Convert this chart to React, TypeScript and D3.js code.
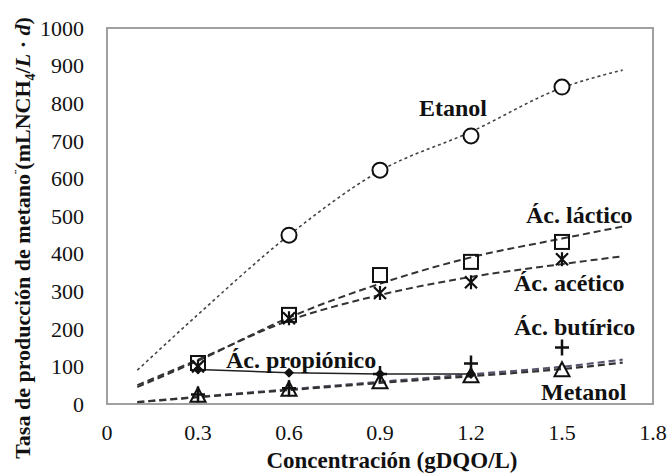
import React from "react";
import * as d3 from "d3";

const xTicks = [0, 0.3, 0.6, 0.9, 1.2, 1.5, 1.8];
const yTicks = [0, 100, 200, 300, 400, 500, 600, 700, 800, 900, 1000];

const concX = [0.3, 0.6, 0.9, 1.2, 1.5];
const etanolX = [0.6, 0.9, 1.2, 1.5];
const etanol = [449, 622, 713, 843];
const lactico = [109, 237, 343, 378, 431];
const acetico = [100, 228, 295, 324, 385];
const propionicoX = [0.3, 0.6, 0.9, 1.2];
const propionico = [92, 83, 80, 80];
const butirico = [25, 42, 80, 108, 150];
const metanol = [22, 38, 58, 74, 90];

const trendX = [0.1, 0.3, 0.6, 0.9, 1.2, 1.5, 1.7];
const etanolTrend = [90, 238, 449, 620, 724, 841, 888];
const lacticoTrend = [45, 115, 230, 320, 390, 440, 472];
const aceticoTrend = [50, 118, 222, 290, 338, 372, 393];
const butiricoTrend = [5, 19, 39, 59, 79, 99, 118];
const metanolTrend = [5, 18, 37, 56, 74, 93, 110];

const W = 670, H = 474;
const L = 107, R = 653, T = 28, B = 404;
const FONT = "'Liberation Serif', 'Times New Roman', serif";

export default function App() {
  const x = d3.scaleLinear().domain([0, 1.8]).range([L, R]);
  const y = d3.scaleLinear().domain([0, 1000]).range([B, T]);
  const line = d3
    .line<[number, number]>()
    .x((d) => x(d[0]))
    .y((d) => y(d[1]))
    .curve(d3.curveMonotoneX);
  const straight = d3
    .line<[number, number]>()
    .x((d) => x(d[0]))
    .y((d) => y(d[1]));
  const zip = (xs: number[], ys: number[]) => xs.map((v, i) => [v, ys[i]] as [number, number]);

  const circle = (cx: number, cy: number, k: string) => (
    <circle key={k} cx={cx} cy={cy} r={7.5} fill="white" stroke="#111" strokeWidth={2} />
  );
  const square = (cx: number, cy: number, k: string) => (
    <rect key={k} x={cx - 7} y={cy - 7} width={14} height={14} fill="none" stroke="#111" strokeWidth={2} />
  );
  const star = (cx: number, cy: number, k: string) => (
    <path
      key={k}
      d={`M${cx - 6},${cy - 6}L${cx + 6},${cy + 6}M${cx + 6},${cy - 6}L${cx - 6},${cy + 6}M${cx},${cy - 7}L${cx},${cy + 7}`}
      stroke="#111"
      strokeWidth={2.2}
    />
  );
  const plus = (cx: number, cy: number, k: string) => (
    <path key={k} d={`M${cx - 7},${cy}L${cx + 7},${cy}M${cx},${cy - 8}L${cx},${cy + 8}`} stroke="#111" strokeWidth={2.5} />
  );
  const tri = (cx: number, cy: number, k: string) => (
    <path key={k} d={`M${cx},${cy - 8}L${cx + 7.5},${cy + 6}L${cx - 7.5},${cy + 6}Z`} fill="none" stroke="#111" strokeWidth={2} />
  );
  const diamond = (cx: number, cy: number, k: string) => (
    <path key={k} d={`M${cx},${cy - 5}L${cx + 5},${cy}L${cx},${cy + 5}L${cx - 5},${cy}Z`} fill="#111" />
  );

  const labelStyle = { fontFamily: FONT, fontWeight: "bold" as const, fontSize: 24, fill: "#111" };

  return (
    <svg width={W} height={H} style={{ position: "absolute", left: 0, top: 0, background: "white" }}>
      <rect x={0} y={0} width={W} height={H} fill="white" />
      <rect x={L} y={T} width={R - L} height={B - T} fill="white" stroke="#a0a0a0" strokeWidth={2} />

      {/* trend lines */}
      <path d={line(zip(trendX, etanolTrend)) || ""} fill="none" stroke="#444" strokeWidth={1.6} strokeDasharray="3,3" />
      <path d={line(zip(trendX, lacticoTrend)) || ""} fill="none" stroke="#333" strokeWidth={2} strokeDasharray="7,4" />
      <path d={line(zip(trendX, aceticoTrend)) || ""} fill="none" stroke="#333" strokeWidth={2} strokeDasharray="7,4" />
      <path d={line(zip(trendX, butiricoTrend)) || ""} fill="none" stroke="#55556e" strokeWidth={2.2} strokeDasharray="7,4" />
      <path d={line(zip(trendX, metanolTrend)) || ""} fill="none" stroke="#333" strokeWidth={2.2} strokeDasharray="7,4" />
      <path d={straight(zip(propionicoX, propionico)) || ""} fill="none" stroke="#222" strokeWidth={1.5} />

      {/* markers */}
      {etanolX.map((v, i) => circle(x(v), y(etanol[i]), "e" + i))}
      {concX.map((v, i) => square(x(v), y(lactico[i]), "l" + i))}
      {concX.map((v, i) => star(x(v), y(acetico[i]), "a" + i))}
      {concX.map((v, i) => tri(x(v), y(metanol[i]), "m" + i))}
      {concX.map((v, i) => plus(x(v), y(butirico[i]), "b" + i))}
      {propionicoX.map((v, i) => diamond(x(v), y(propionico[i]), "p" + i))}

      {/* series labels */}
      <text x={419} y={116} style={labelStyle}>Etanol</text>
      <text x={526} y={223} style={labelStyle}>Ác. láctico</text>
      <text x={514} y={291} style={labelStyle}>Ác. acético</text>
      <text x={514} y={335} style={labelStyle}>Ác. butírico</text>
      <text x={226} y={368} style={labelStyle}>Ác. propiónico</text>
      <text x={541} y={400} style={labelStyle}>Metanol</text>

      {/* y ticks */}
      {yTicks.map((t) => (
        <text key={"y" + t} x={84} y={y(t)} dy="0.35em" textAnchor="end" fontFamily={FONT} fontSize={22} fill="#111">
          {t}
        </text>
      ))}
      {/* x ticks */}
      {xTicks.map((t) => (
        <text key={"x" + t} x={x(t)} y={440} textAnchor="middle" fontFamily={FONT} fontSize={22} fill="#111">
          {t === 0 ? "0" : d3.format(".1f")(t)}
        </text>
      ))}

      {/* axis titles */}
      <text x={392} y={468} textAnchor="middle" fontFamily={FONT} fontWeight="bold" fontSize={23} fill="#111">
        Concentración (gDQO/L)
      </text>
      <text
        transform={`translate(30,238) rotate(-90)`}
        textAnchor="middle"
        fontFamily={FONT}
        fontWeight="bold"
        fontSize={22}
        fill="#111"
      >
        Tasa de producción de metano
        <tspan dy={-7} fontSize={13}>¨</tspan>
        <tspan dy={7}>(mLNCH</tspan>
        <tspan dy={5} fontSize={14}>4</tspan>
        <tspan dy={-5}>/</tspan>
        <tspan fontStyle="italic">L</tspan>
        <tspan> · </tspan>
        <tspan fontStyle="italic">d</tspan>
        <tspan>)</tspan>
      </text>
    </svg>
  );
}
